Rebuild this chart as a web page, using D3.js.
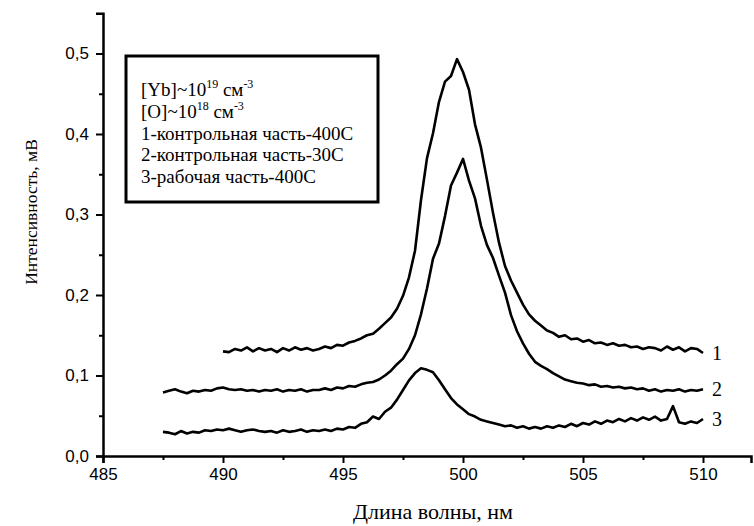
<!DOCTYPE html>
<html><head><meta charset="utf-8">
<script src="https://cdn.jsdelivr.net/npm/d3@7"></script>
<style>body{margin:0;background:#fff}svg{display:block}</style>
</head><body>
<script>
// Data (wavelength grids in nm; intensities in mV)
const start1 = 490, start2 = 487.5, start3 = 487.5, stepNm = 0.25;
const curve1 = [.130,.129,.133,.131,.135,.130,.134,.131,.133,.129,.134,.131,.135,.132,.134,.131,.133,.136,.134,.138,
.137,.141,.143,.146,.150,.152,.158,.165,.172,.183,.199,.222,.255,.318,.370,.401,.440,.465,.472,.493,
.477,.455,.412,.383,.343,.302,.265,.236,.218,.203,.188,.176,.168,.162,.156,.153,.148,.150,.145,.146,
.142,.144,.140,.141,.138,.140,.137,.138,.135,.136,.133,.135,.134,.131,.136,.132,.135,.130,.134,.133,.128];
const curve2 = [.079,.081,.083,.080,.078,.081,.080,.082,.081,.084,.085,.083,.082,.083,.081,.082,.080,.082,.081,.083,
.080,.082,.081,.083,.080,.082,.082,.084,.082,.085,.084,.087,.086,.089,.091,.092,.095,.100,.106,.114,
.121,.133,.150,.176,.208,.245,.264,.298,.336,.352,.369,.342,.320,.286,.262,.246,.224,.203,.175,.155,
.140,.127,.117,.112,.108,.103,.099,.095,.093,.091,.090,.088,.089,.086,.087,.085,.086,.084,.085,.083,
.084,.081,.083,.080,.082,.081,.083,.080,.082,.081,.083];
const curve3 = [.030,.029,.027,.031,.028,.030,.029,.032,.031,.033,.032,.034,.032,.030,.032,.033,.031,.030,.031,.029,
.032,.030,.031,.033,.030,.032,.031,.033,.031,.034,.033,.036,.035,.040,.042,.049,.046,.055,.060,.070,
.082,.094,.103,.109,.107,.104,.094,.083,.072,.064,.058,.052,.049,.045,.043,.041,.039,.037,.038,.035,
.037,.034,.036,.034,.037,.035,.038,.036,.040,.037,.041,.039,.043,.040,.044,.042,.046,.043,.047,.044,
.048,.045,.049,.044,.046,.062,.042,.040,.043,.041,.046];
const curveLabels = ["1","2","3"];
const xTicks = [485,490,495,500,505,510];
const xMinor = [487.5,492.5,497.5,502.5,507.5];
const yTicks = [0,0.1,0.2,0.3,0.4,0.5];
const yTickLabels = ["0,0","0,1","0,2","0,3","0,4","0,5"];
const yMinor = [0.05,0.15,0.25,0.35,0.45];
const legendLines = [
  {base:"[Yb]~10", sup1:"19", mid:" см", sup2:"-3"},
  {base:"[O]~10", sup1:"18", mid:" см", sup2:"-3"},
  {base:"1-контрольная часть-400С"},
  {base:"2-контрольная часть-30С"},
  {base:"3-рабочая часть-400С"}
];
const xTitle = "Длина волны, нм";
const yTitle = "Интенсивность, мВ";

const W = 754, H = 526;
const svg = d3.select("body").append("svg").attr("width", W).attr("height", H);
const x = d3.scaleLinear().domain([485, 512]).range([103, 751]);
const y = d3.scaleLinear().domain([0, 0.55]).range([456, 13.25]);

const serif = "'Liberation Serif','Times New Roman',serif";
const sans = "'Liberation Sans',Arial,sans-serif";

// axes
const xAxis = svg.append("g").attr("transform", "translate(0,456)")
  .call(d3.axisBottom(x).tickValues(xTicks).tickSize(7).tickPadding(5).tickFormat(d3.format("d")));
const xAxisMinor = svg.append("g").attr("transform", "translate(0,456)")
  .call(d3.axisBottom(x).tickValues(xMinor).tickSize(4).tickFormat(""));
const yAxis = svg.append("g").attr("transform", "translate(103,0)")
  .call(d3.axisLeft(y).tickValues(yTicks).tickSize(7).tickPadding(7).tickFormat((d,i)=>yTickLabels[i]));
const yAxisMinor = svg.append("g").attr("transform", "translate(103,0)")
  .call(d3.axisLeft(y).tickValues(yMinor).tickSize(4).tickFormat(""));
svg.selectAll(".domain").attr("stroke", "#000").attr("stroke-width", 2.5);
xAxisMinor.select(".domain").remove();
yAxisMinor.select(".domain").remove();
svg.selectAll(".tick line").attr("stroke", "#000").attr("stroke-width", 2);
svg.selectAll(".tick text").attr("font-family", sans).attr("font-size", 17).attr("fill", "#000");

// curves
const line = d3.line().x(d => x(d[0])).y(d => y(d[1]));
const series = [
  curve1.map((v,i) => [start1 + i*stepNm, v]),
  curve2.map((v,i) => [start2 + i*stepNm, v]),
  curve3.map((v,i) => [start3 + i*stepNm, v])
];
svg.append("g").selectAll("path").data(series).join("path")
  .attr("d", line).attr("fill", "none").attr("stroke", "#000")
  .attr("stroke-width", 2.6).attr("stroke-linejoin", "round");

// curve labels
svg.append("g").selectAll("text").data(series).join("text")
  .attr("x", d => x(d[d.length-1][0]) + 9)
  .attr("y", d => y(d[d.length-1][1]) + 7)
  .attr("font-family", serif).attr("font-size", 20)
  .text((d,i) => curveLabels[i]);

// legend box
svg.append("rect").attr("x", 126).attr("y", 56).attr("width", 252).attr("height", 146)
  .attr("fill", "#fff").attr("stroke", "#000").attr("stroke-width", 3);
const lg = svg.append("g").attr("font-family", serif).attr("font-size", 19).attr("fill", "#000");
legendLines.forEach((l, i) => {
  const t = lg.append("text").attr("x", 141).attr("y", 96 + i*21.75);
  t.append("tspan").text(l.base);
  if (l.sup1) {
    t.append("tspan").attr("dy", -8).attr("font-size", 12).text(l.sup1);
    t.append("tspan").attr("dy", 8).text(l.mid);
    t.append("tspan").attr("dy", -8).attr("font-size", 12).text(l.sup2);
  }
});

// titles
svg.append("text").attr("x", 433).attr("y", 519).attr("text-anchor", "middle")
  .attr("font-family", serif).attr("font-size", 22).text(xTitle);
svg.append("text").attr("transform", "translate(37,212) rotate(-90)").attr("text-anchor", "middle")
  .attr("font-family", serif).attr("font-size", 17.5).text(yTitle);
</script>
</body></html>
